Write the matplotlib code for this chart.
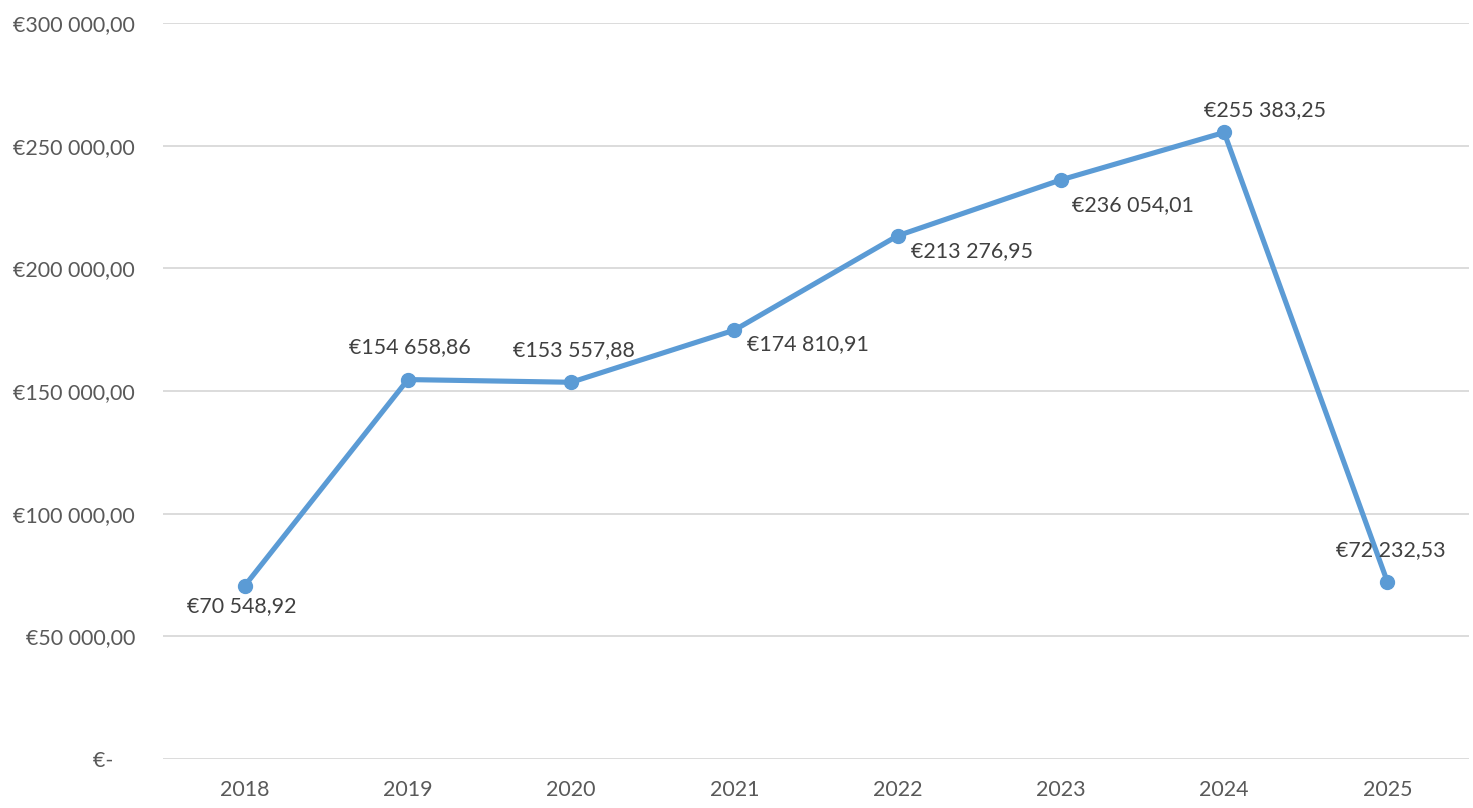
import matplotlib
matplotlib.use("Agg")
import matplotlib.pyplot as plt
from matplotlib.ticker import FuncFormatter

years = ["2018", "2019", "2020", "2021", "2022", "2023", "2024", "2025"]
values = [70548.92, 154658.86, 153557.88, 174810.91, 213276.95, 236054.01, 255383.25, 72232.53]
label_offsets = [(-3, -20), (2, 32), (3, 32), (74, -14), (74, -15), (72, -25), (41, 22), (3, 32)]
yticks = [0, 50000, 100000, 150000, 200000, 250000, 300000]

plt.rcParams['font.family'] = ['Lato', 'DejaVu Sans']

def eur(v):
    s = f"{v:,.2f}".replace(",", " ").replace(".", ",")
    return "€" + s

fig = plt.figure(figsize=(14.73, 8.08), dpi=100)
ax = fig.add_axes([163/1473, 1-759/808, (1469-163)/1473, (759-23)/808])

x = list(range(len(years)))
ax.plot(x, values, color="#5b9bd5", lw=3.7, marker="o", ms=10, solid_capstyle="round", zorder=3)

for xi, v, (dx, dy) in zip(x, values, label_offsets):
    ax.annotate(eur(v), (xi, v), xytext=(dx, dy), textcoords="offset pixels",
                ha="center", va="center", fontsize=15.4, color="#404040", zorder=4)

ax.set_xlim(-0.5, len(years) - 0.5)
ax.set_ylim(0, 300000)
ax.set_yticks(yticks)
ax.yaxis.set_major_formatter(FuncFormatter(lambda v, p: "€-    " if v == 0 else eur(v)))
ax.set_xticks(x)
ax.set_xticklabels(years)
ax.grid(axis="y", color="#d9d9d9", lw=1.3)
ax.set_axisbelow(True)
for s in ax.spines.values():
    s.set_visible(False)
ax.tick_params(axis="both", length=0, labelsize=15.4, labelcolor="#595959")
ax.tick_params(axis="y", pad=20)
ax.tick_params(axis="x", pad=15)

fig.savefig("out.png", dpi=100)
